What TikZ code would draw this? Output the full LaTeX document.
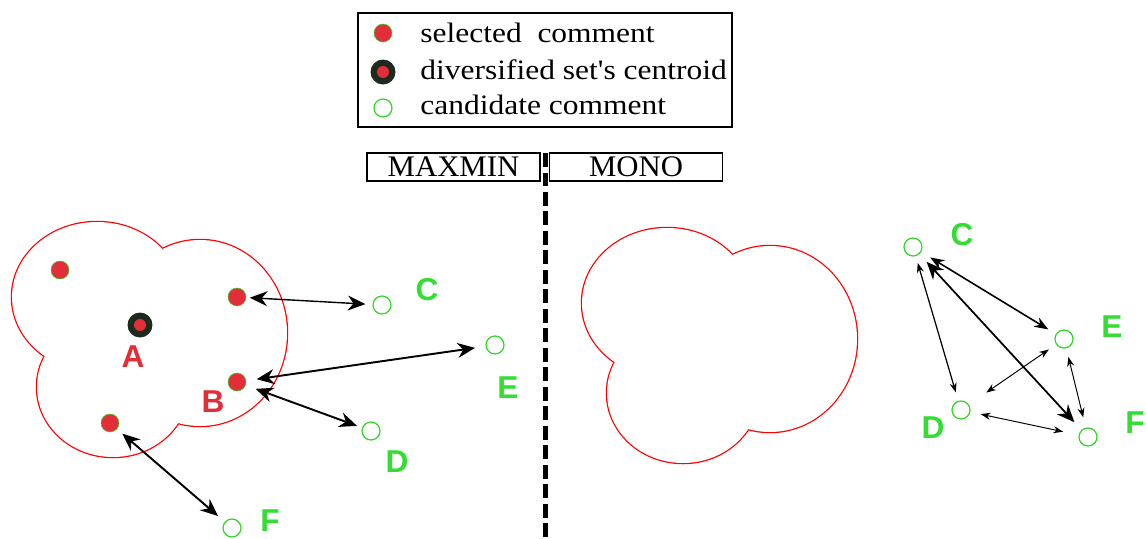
\documentclass[tikz,border=0pt]{standalone}
\usepackage{fontspec}
\setmainfont{Liberation Serif}
\newfontfamily\markfont{Liberation Sans}
\usetikzlibrary{arrows.meta}

\definecolor{dotred}{RGB}{226,46,56}
\definecolor{ringgreen}{RGB}{51,214,40}
\definecolor{markgreen}{RGB}{51,221,51}
\definecolor{centroiddark}{RGB}{30,42,30}

\tikzset{
  selected/.style={circle, fill=dotred, draw=ringgreen, line width=0.3pt,
    minimum size=0.36cm, inner sep=0pt},
  candidate/.style={circle, draw=ringgreen, line width=0.7pt,
    minimum size=0.36cm, inner sep=0pt},
  centroid/.style={circle, fill=centroiddark, minimum size=0.5cm, inner sep=0pt,
    path picture={\fill[dotred] (path picture bounding box.center) circle (0.12cm);}},
  ptlabel/.style={font=\markfont\bfseries\fontsize{18}{20}\selectfont, inner sep=0pt},
  legendtext/.style={font=\fontsize{16}{18}\selectfont, inner sep=0pt, anchor=base west},
  bigarrow/.style={{Stealth[length=10pt,width=8.5pt]}-{Stealth[length=10pt,width=8.5pt]},
    line width=1.1pt},
  midarrow/.style={{Stealth[length=8pt,width=6pt]}-{Stealth[length=8pt,width=6pt]},
    line width=0.9pt},
  smallarrow/.style={{Stealth[length=5.5pt,width=4pt]}-{Stealth[length=5.5pt,width=4pt]},
    line width=0.55pt},
  modebox/.style={draw, line width=0.6pt, minimum width=3.46cm, minimum height=0.56cm,
    inner sep=0pt, font=\fontsize{17}{19}\selectfont},
  divider/.style={line width=0.1cm, dash pattern=on 0.28cm off 0.11cm},
  blobline/.style={draw=red, line width=0.05cm},
  cloud/.pic={
    % outline of three overlapping lobes
    \foreach \cx/\cy/\rx/\ry in {97/297/85/75, 200/333/87/93, 113/387/76/70}
      \draw[blobline] (\cx,\cy) ellipse [x radius=\rx*0.02cm, y radius=\ry*0.02cm];
    \foreach \cx/\cy/\rx/\ry in {97/297/85/75, 200/333/87/93, 113/387/76/70}
      \fill[white] (\cx,\cy) ellipse [x radius=\rx*0.02cm, y radius=\ry*0.02cm];
  }
}

\begin{document}
\begin{tikzpicture}[x=0.02cm, y=-0.02cm]
\useasboundingbox (0,0) rectangle (1146,538);

% legend
\draw[line width=0.9pt] (358,13) rectangle (732,127);
\node[selected] (keysel) at (383,33) {};
\node[centroid] (keycen) at (383,72) {};
\node[candidate] (keycand) at (383,108) {};
\node[legendtext] (txtsel) at (420,42) {\scalebox{1.12}[1]{selected\ \ comment}};
\node[legendtext] (txtcen) at (420,79) {\scalebox{1.12}[1]{diversified set\textquotesingle s centroid}};
\node[legendtext] (txtcand) at (420,114) {\scalebox{1.12}[1]{candidate comment}};

% method headers and divider
\node[modebox] (maxmin) at (453.5,167) {\scalebox{1.03}[1]{MAXMIN}};
\node[modebox] (mono) at (636,167) {\scalebox{1.03}[1]{MONO}};
\draw[divider] (545.5,153) -- (545.5,538);

% clouds
\pic at (0,0) {cloud};
\pic at (570,6) {cloud};

% MAXMIN side
\node[selected] (selone) at (60,270) {};
\node[selected] (seltwo) at (237,297) {};
\node[centroid] (cenA) at (140,325) {};
\node[selected] (selB) at (237,382) {};
\node[selected] (selfour) at (110,423) {};
\node[ptlabel, text=dotred] (labA) at (133,357) {A};
\node[ptlabel, text=dotred] (labB) at (213,402) {B};

\node[candidate] (lC) at (382,305) {};
\node[candidate] (lE) at (495,345) {};
\node[candidate] (lD) at (371,431) {};
\node[candidate] (lF) at (232,528) {};
\node[ptlabel, text=markgreen] (labLC) at (427,290) {C};
\node[ptlabel, text=markgreen] (labLE) at (508,388) {E};
\node[ptlabel, text=markgreen] (labLD) at (397,462) {D};
\node[ptlabel, text=markgreen] (labLF) at (270,521) {F};

\draw[bigarrow, line width=0.8pt, shorten <=2pt, shorten >=4pt] (seltwo) -- (lC);
\draw[bigarrow, shorten <=6pt, shorten >=6pt] (selB) -- (lE);
\draw[bigarrow, shorten <=6pt, shorten >=3pt] (selB) -- (lD);
\draw[bigarrow, shorten <=4pt, shorten >=5pt] (selfour) -- (lF);

% MONO side
\node[candidate] (rC) at (913,247) {};
\node[candidate] (rE) at (1064,339) {};
\node[candidate] (rD) at (961,410) {};
\node[candidate] (rF) at (1088,437) {};
\node[ptlabel, text=markgreen] (labRC) at (962,235) {C};
\node[ptlabel, text=markgreen] (labRE) at (1112,327) {E};
\node[ptlabel, text=markgreen] (labRD) at (933,428) {D};
\node[ptlabel, text=markgreen] (labRF) at (1135,423) {F};

\draw[midarrow, shorten <=6pt, shorten >=5pt] (rC) -- (rE);
\draw[bigarrow, line width=1pt, shorten <=6pt, shorten >=6pt] (rC) -- (rF);
\draw[smallarrow, line width=0.7pt, shorten <=4pt, shorten >=5pt] (rC) -- (rD);
\draw[smallarrow, shorten <=12pt, shorten >=5pt] (rD) -- (rE);
\draw[smallarrow, shorten <=5pt, shorten >=6pt] (rE) -- (rF);
\draw[smallarrow, shorten <=6pt, shorten >=9pt] (rD) -- (rF);
\end{tikzpicture}
\end{document}
